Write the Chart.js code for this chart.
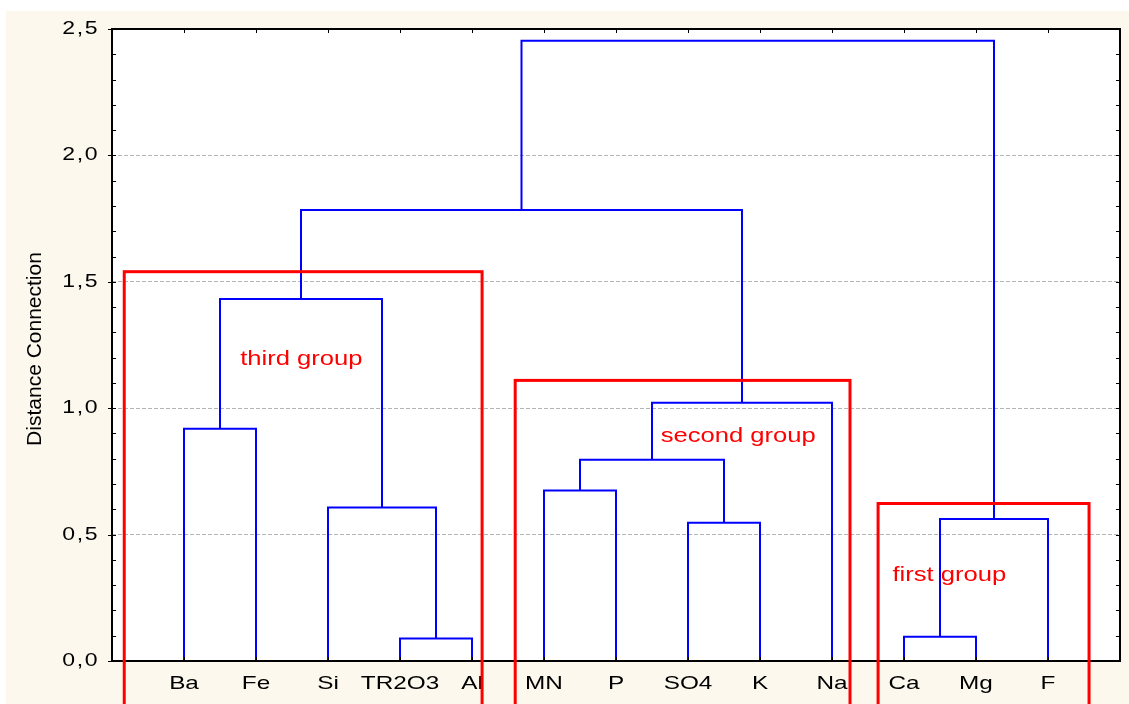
<!DOCTYPE html>
<html>
<head>
<meta charset="utf-8">
<script src="https://cdn.jsdelivr.net/npm/chart.js@4/dist/chart.umd.min.js"></script>
<style>
  html, body { margin: 0; padding: 0; background: #ffffff; }
  canvas { display: block; }
</style>
</head>
<body>
<canvas id="dendro" width="1129" height="704"></canvas>
<script>
// Leaves of the tree, left to right
const leafLabels = ['Ba', 'Fe', 'Si', 'TR2O3', 'Al', 'MN', 'P', 'SO4', 'K', 'Na', 'Ca', 'Mg', 'F'];
// Linkage steps: ids 0..12 are the leaves, step i creates cluster 13 + i
const mergeLeft   = [3, 10, 7, 14, 2, 5, 18, 0, 19, 20, 22, 23];
const mergeRight  = [4, 11, 8, 12, 13, 6, 15, 1, 9, 17, 21, 16];
const mergeHeight = [0.089, 0.096, 0.547, 0.562, 0.607, 0.674, 0.796, 0.919, 1.022, 1.432, 1.784, 2.454];
// Distance axis ticks
const yTickValues = [0, 0.5, 1.0, 1.5, 2.0, 2.5];
// Groups framed in red (extent and caption anchor in axis units)
const groupNames  = ['third group', 'second group', 'first group'];
const groupFrom   = [0.17, 5.60, 10.64];
const groupTo     = [5.14, 10.25, 13.57];
const groupTop    = [1.54, 1.11, 0.623];
const groupLabelX = [1.78, 7.62, 10.84];
const groupLabelY = [1.172, 0.866, 0.315];

const FONT = "'Liberation Sans', Arial, sans-serif";
const CREAM = '#fcf8ee';
const WIDE = 1.28; // horizontal stretch of the lettering

// Build one U-shaped link per linkage step
const nodeX = leafLabels.map((_, i) => i + 1);
const nodeY = leafLabels.map(() => 0);
const datasets = mergeHeight.map((h, i) => {
  const a = mergeLeft[i], b = mergeRight[i];
  const pts = [
    { x: nodeX[a], y: nodeY[a] },
    { x: nodeX[a], y: h },
    { x: nodeX[b], y: h },
    { x: nodeX[b], y: nodeY[b] }
  ];
  nodeX.push((nodeX[a] + nodeX[b]) / 2);
  nodeY.push(h);
  return {
    data: pts,
    showLine: true,
    borderColor: '#0000ff',
    borderWidth: 2,
    pointRadius: 0,
    pointHoverRadius: 0,
    fill: false,
    tension: 0,
    borderCapStyle: 'butt',
    borderJoinStyle: 'miter'
  };
});

function wideText(ctx, text, x, y, align, baseline, spacing) {
  ctx.save();
  ctx.translate(x, y);
  ctx.scale(WIDE, 1);
  ctx.letterSpacing = (spacing || 0) + 'px';
  ctx.textAlign = align;
  ctx.textBaseline = baseline;
  ctx.fillText(text, 0, 0);
  ctx.restore();
}

const decor = {
  id: 'decor',
  beforeDraw(chart) {
    const { ctx, chartArea: a } = chart;
    ctx.fillStyle = CREAM;
    ctx.fillRect(6, 11, chart.width - 6, chart.height - 11);
    ctx.fillStyle = '#ffffff';
    ctx.fillRect(a.left, a.top, a.right - a.left, a.bottom - a.top);
  },
  afterDatasetsDraw(chart) {
    const { ctx, chartArea: a, scales } = chart;
    ctx.save();
    ctx.strokeStyle = '#000000';
    ctx.lineWidth = 1;
    ctx.beginPath();
    for (let v = 0; v <= 25; v++) {
      const y = Math.round(scales.y.getPixelForValue(v / 10)) + 0.5;
      ctx.moveTo(a.left, y); ctx.lineTo(a.left + 4, y);
      ctx.moveTo(a.right - 4, y); ctx.lineTo(a.right, y);
      if (v % 5 === 0) { ctx.moveTo(a.left - 4, y); ctx.lineTo(a.left, y); }
    }
    leafLabels.forEach((_, i) => {
      const x = Math.round(scales.x.getPixelForValue(i + 1)) + 0.5;
      ctx.moveTo(x, a.top); ctx.lineTo(x, a.top + 4);
      ctx.moveTo(x, a.bottom - 4); ctx.lineTo(x, a.bottom);
    });
    ctx.stroke();
    ctx.lineWidth = 2;
    ctx.strokeRect(a.left, a.top, a.right - a.left, a.bottom - a.top);

    // tick labels, taken from the scales' own ticks
    ctx.fillStyle = '#000000';
    ctx.font = '18px ' + FONT;
    scales.y.ticks.forEach((t) => {
      wideText(ctx, t.label, a.left - 13, scales.y.getPixelForValue(t.value), 'right', 'middle', 1.2);
    });
    ctx.font = '19px ' + FONT;
    scales.x.ticks.forEach((t) => {
      wideText(ctx, t.label, scales.x.getPixelForValue(t.value), a.bottom + 23, 'center', 'middle', 0);
    });
    ctx.restore();
  },
  afterDraw(chart) {
    const { ctx, scales } = chart;
    ctx.save();
    // red group frames and their captions
    ctx.strokeStyle = '#ff0000';
    ctx.lineWidth = 3;
    ctx.fillStyle = '#ff0000';
    ctx.font = '20px ' + FONT;
    groupNames.forEach((name, i) => {
      const x0 = scales.x.getPixelForValue(groupFrom[i]);
      const x1 = scales.x.getPixelForValue(groupTo[i]);
      const y0 = scales.y.getPixelForValue(groupTop[i]);
      ctx.strokeRect(x0, y0, x1 - x0, chart.height + 10 - y0);
      wideText(ctx, name, scales.x.getPixelForValue(groupLabelX[i]), scales.y.getPixelForValue(groupLabelY[i]), 'left', 'alphabetic', 0);
    });
    // distance axis title
    ctx.fillStyle = '#000000';
    ctx.font = '21px ' + FONT;
    ctx.textAlign = 'center';
    ctx.textBaseline = 'middle';
    ctx.translate(35, 349);
    ctx.rotate(-Math.PI / 2);
    ctx.fillText('Distance Connection', 0, 0);
    ctx.restore();
  }
};

new Chart(document.getElementById('dendro'), {
  type: 'scatter',
  data: { datasets },
  options: {
    responsive: false,
    animation: false,
    events: [],
    layout: { padding: { left: 0, top: 29, right: 9, bottom: 0 } },
    plugins: { legend: { display: false }, tooltip: { enabled: false } },
    scales: {
      x: {
        type: 'linear',
        min: 0,
        max: leafLabels.length + 1,
        afterBuildTicks(scale) { scale.ticks = leafLabels.map((_, i) => ({ value: i + 1 })); },
        afterFit(scale) { scale.height = 43; },
        grid: { display: false, drawTicks: false },
        border: { display: false },
        ticks: {
          display: false,
          autoSkip: false,
          maxRotation: 0,
          callback: (v) => leafLabels[v - 1] || ''
        }
      },
      y: {
        type: 'linear',
        min: 0,
        max: 2.5,
        afterBuildTicks(scale) { scale.ticks = yTickValues.map(v => ({ value: v })); },
        afterFit(scale) { scale.width = 112; },
        grid: {
          drawTicks: false,
          lineWidth: 1,
          color: (c) => (c.tick && (c.tick.value === 0 || c.tick.value === 2.5)) ? 'rgba(0,0,0,0)' : '#b4b4b4'
        },
        border: { display: false, dash: [4, 2] },
        ticks: {
          display: false,
          callback: (v) => v.toFixed(1).replace('.', ',')
        }
      }
    }
  },
  plugins: [decor]
});
</script>
</body>
</html>
